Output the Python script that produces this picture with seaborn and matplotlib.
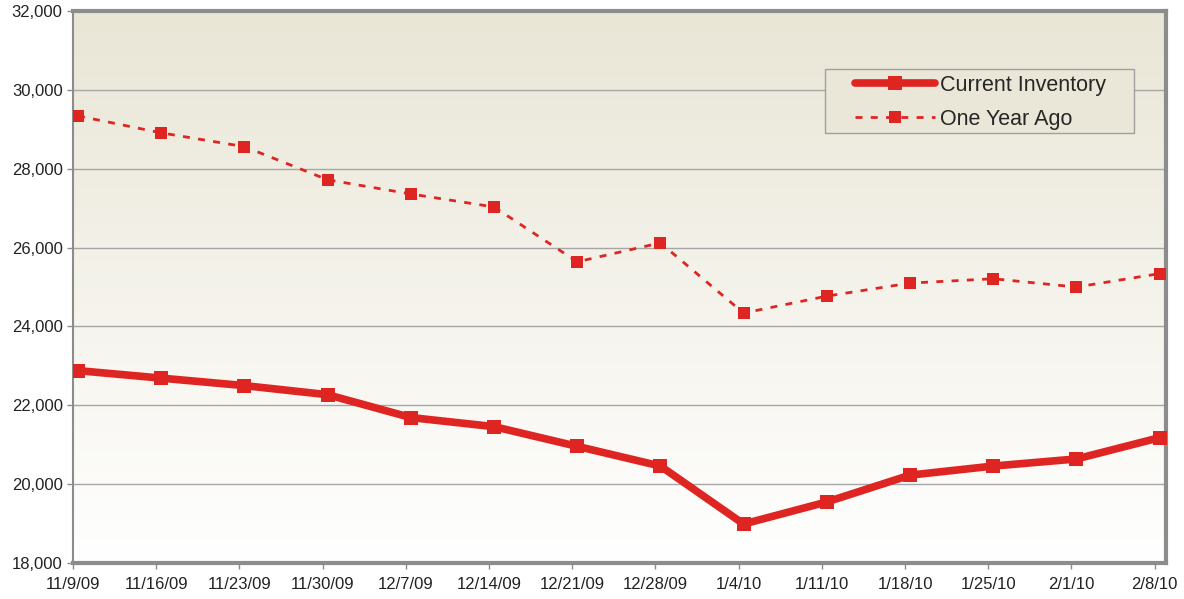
import numpy as np
import pandas as pd
import matplotlib
matplotlib.use("Agg")
import matplotlib.pyplot as plt
from matplotlib.patches import Rectangle
import seaborn as sns

# ---------------------------------------------------
# Data
# ---------------------------------------------------
week_labels = ["11/9/09", "11/16/09", "11/23/09", "11/30/09", "12/7/09",
               "12/14/09", "12/21/09", "12/28/09", "1/4/10", "1/11/10",
               "1/18/10", "1/25/10", "2/1/10", "2/8/10"]
current_inventory = [22880, 22690, 22500, 22270, 21690, 21460, 20960,
                     20460, 18990, 19550, 20230, 20460, 20640, 21180]
one_year_ago = [29340, 28910, 28560, 27720, 27360, 27030, 25640,
                26120, 24340, 24770, 25100, 25210, 25000, 25340]
y_ticks = [18000, 20000, 22000, 24000, 26000, 28000, 30000, 32000]

df = pd.DataFrame({
    "week": list(range(len(week_labels))) * 2,
    "value": current_inventory + one_year_ago,
    "series": ["Current Inventory"] * len(week_labels)
              + ["One Year Ago"] * len(week_labels),
})

red = "#DE2522"
frame_grey = "#8C8C8C"

sns.set_style("white")
plt.rcParams["font.family"] = ["Liberation Sans", "DejaVu Sans"]

fig = plt.figure(figsize=(11.84, 5.99), dpi=100)
ax = fig.add_axes([0.0617, 0.06, 0.9233, 0.9216])

# ---------------------------------------------------
# Beige -> white gradient background
# ---------------------------------------------------
grad = np.linspace(0, 1, 256).reshape(-1, 1)
top_c = np.array([233, 230, 214]) / 255
bot_c = np.array([255, 255, 255]) / 255
img = bot_c * (1 - grad[..., None]) + top_c * grad[..., None]
ax.imshow(img, extent=[0, 1, 0, 1], transform=ax.transAxes,
          aspect="auto", origin="lower", zorder=0)

# grid lines
for yt in y_ticks[1:-1]:
    ax.axhline(yt, color="#A6A6A6", lw=1, zorder=1)

# ---------------------------------------------------
# Lines
# ---------------------------------------------------
sns.lineplot(data=df[df.series == "Current Inventory"], x="week", y="value",
             color=red, lw=5.5, marker="s", markersize=10,
             markeredgewidth=0, label="Current Inventory", ax=ax, zorder=3)
sns.lineplot(data=df[df.series == "One Year Ago"], x="week", y="value",
             color=red, lw=2, linestyle=(0, (2.5, 3)), marker="s",
             markersize=8, markeredgewidth=0, label="One Year Ago",
             ax=ax, zorder=3)

ax.set_xlim(-0.06, 13.08)
ax.set_ylim(18000, 32000)
ax.set_yticks(y_ticks)
ax.set_yticklabels([f"{v:,}" for v in y_ticks])
ax.set_xticks(np.arange(len(week_labels)) - 0.06)
ax.set_xticklabels(week_labels)
ax.set_xlabel("")
ax.set_ylabel("")
ax.tick_params(axis="both", labelsize=12, colors="#222222",
               length=4, width=1, direction="out")
ax.tick_params(axis="x", pad=6, color=frame_grey)
ax.tick_params(axis="y", color=frame_grey)
ax.xaxis.set_ticks_position("bottom")
ax.yaxis.set_ticks_position("left")

for side in ["top", "right", "bottom", "left"]:
    ax.spines[side].set_visible(True)
    ax.spines[side].set_color(frame_grey)
ax.spines["top"].set_linewidth(3)
ax.spines["right"].set_linewidth(3)
ax.spines["bottom"].set_linewidth(3)
ax.spines["left"].set_linewidth(1.5)

# ---------------------------------------------------
# Legend: separate box so it can be wider than its contents
# ---------------------------------------------------
ax.add_patch(Rectangle((0.688, 0.779), 0.2827, 0.116, transform=ax.transAxes,
                       facecolor="#EAE7D8", edgecolor="#A0A0A0", lw=1,
                       zorder=4))
leg = ax.legend(loc="center left", bbox_to_anchor=(0.7155, 0.835),
                fontsize=15.5, frameon=False, borderpad=0, borderaxespad=0,
                handlelength=3.7, handletextpad=0.25, labelspacing=0.6)
leg.set_zorder(5)

fig.savefig("out.png", dpi=100)
